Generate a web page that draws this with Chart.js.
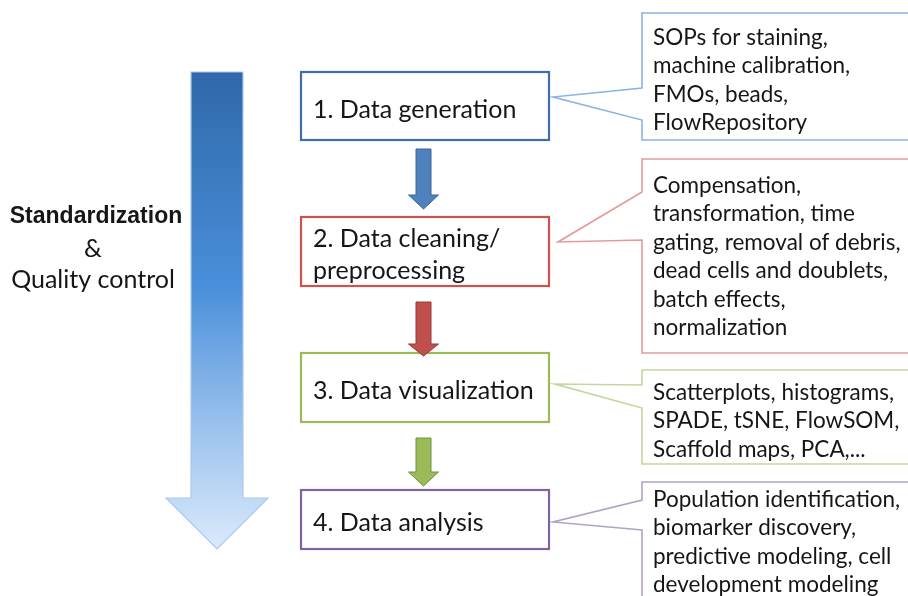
<!DOCTYPE html>
<html>
<head>
<meta charset="utf-8">
<script src="https://cdn.jsdelivr.net/npm/chart.js@4/dist/chart.umd.min.js"></script>
<style>
  html, body { margin: 0; padding: 0; background: #ffffff; }
  #wrap { width: 908px; height: 596px; position: relative; }
</style>
</head>
<body>
<div id="wrap"><canvas id="flowChart"></canvas></div>
<script>
// ==========================================
// DATA: the pipeline steps and their notes
// ==========================================
const stepLabels = [
    ["1. Data generation"],
    ["2. Data cleaning/", "preprocessing"],
    ["3. Data visualization"],
    ["4. Data analysis"]
];

const stepNotes = [
    ["SOPs for staining,", "machine calibration,", "FMOs, beads,", "FlowRepository"],
    ["Compensation,", "transformation, time", "gating, removal of debris,", "dead cells and doublets,", "batch effects,", "normalization"],
    ["Scatterplots, histograms,", "SPADE, tSNE, FlowSOM,", "Scaffold maps, PCA,..."],
    ["Population identification,", "biomarker discovery,", "predictive modeling, cell", "development modeling"]
];

const sideLabel = ["Standardization", "&", "Quality control"];

// ==========================================
// LAYOUT (in the 908 x 596 coordinate system of the x/y scales)
// ==========================================
const stepBoxes = [          // left, top, right, bottom
    [301, 72, 549, 140],
    [301, 217, 549, 286],
    [301, 353, 549, 422],
    [301, 490, 549, 549]
];
const stepBaselines = [[118], [247, 279], [399], [531]];

const noteBoxes = [          // left, top, bottom
    [642, 13, 140],
    [642, 159, 353],
    [642, 370, 464],
    [642, 482, 620]
];
const notePointers = [       // tipX, tipY, attachTop, attachBottom
    [553, 97, 88, 120],
    [558, 242, 192, 240],
    [555, 384, 385, 408],
    [553, 522, 500, 530]
];
const noteFirstBaseline = [45, 193, 400, 507];
const noteLineGap = 28.4;

const smallArrows = [        // shaft top, head base, tip (x centre 423.5)
    [149, 195, 209],
    [302, 344, 356],
    [438, 472, 486]
];

// ==========================================
// STYLE
// ==========================================
const stepColors  = ["#3f6ea8", "#d0504c", "#9bbb59", "#8064a2"];
const noteColors  = ["#8db3e2", "#e59a99", "#c3d69b", "#b3a2c7"];
const arrowFills  = ["#4f81bd", "#c0504d", "#9bbb59"];
const arrowEdges  = ["#3a6497", "#8f3a37", "#748e40"];
const FONT = "Lato, 'Open Sans', sans-serif";
const INK = "#161616";

// ==========================================
// PLUGIN: draws the diagram through the chart's scales
// ==========================================
const diagramPlugin = {
    id: "diagram",
    beforeDraw(chart) {
        const ctx = chart.ctx;
        ctx.save();
        ctx.fillStyle = "#ffffff";
        ctx.fillRect(0, 0, chart.width, chart.height);
        ctx.restore();
    },
    afterDatasetsDraw(chart) {
        const ctx = chart.ctx;
        const sx = v => chart.scales.x.getPixelForValue(v);
        const sy = v => chart.scales.y.getPixelForValue(v);

        const text = (str, x, y, font, align) => {
            ctx.save();
            ctx.font = font;
            ctx.fillStyle = INK;
            ctx.textBaseline = "alphabetic";
            ctx.textAlign = align || "left";
            ctx.fillText(str, sx(x), sy(y));
            ctx.restore();
        };

        // --- big gradient arrow on the left
        ctx.save();
        const grad = ctx.createLinearGradient(0, sy(72), 0, sy(549));
        grad.addColorStop(0, "#2f68aa");
        grad.addColorStop(0.45, "#4a8fda");
        grad.addColorStop(0.75, "#9cc3ee");
        grad.addColorStop(1, "#dbeafb");
        ctx.beginPath();
        ctx.moveTo(sx(191), sy(72));
        ctx.lineTo(sx(243), sy(72));
        ctx.lineTo(sx(243), sy(498));
        ctx.lineTo(sx(268), sy(498));
        ctx.lineTo(sx(217), sy(549));
        ctx.lineTo(sx(166), sy(498));
        ctx.lineTo(sx(191), sy(498));
        ctx.closePath();
        ctx.fillStyle = grad;
        ctx.fill();
        ctx.strokeStyle = "#a9c9ec";
        ctx.lineWidth = 1.2;
        ctx.stroke();
        ctx.restore();

        // --- side label
        text(sideLabel[0], 96, 223, "bold 23px 'Liberation Sans', Arial, sans-serif", "center");
        text(sideLabel[1], 93, 257, "25px " + FONT, "center");
        text(sideLabel[2], 93, 288, "25px " + FONT, "center");

        // --- note callouts
        noteBoxes.forEach((b, i) => {
            const [left, top, bottom] = b;
            const [tx, ty, a1, a2] = notePointers[i];
            ctx.save();
            ctx.beginPath();
            ctx.moveTo(sx(left), sy(top));
            ctx.lineTo(sx(920), sy(top));
            ctx.lineTo(sx(920), sy(bottom));
            ctx.lineTo(sx(left), sy(bottom));
            ctx.lineTo(sx(left), sy(a2));
            ctx.lineTo(sx(tx), sy(ty));
            ctx.lineTo(sx(left), sy(a1));
            ctx.closePath();
            ctx.fillStyle = "#ffffff";
            ctx.fill();
            ctx.strokeStyle = noteColors[i];
            ctx.lineWidth = 1.6;
            ctx.stroke();
            ctx.restore();
            stepNotes[i].forEach((line, k) => {
                text(line, left + 11, noteFirstBaseline[i] + k * noteLineGap, "22.5px " + FONT);
            });
        });

        // --- step boxes
        stepBoxes.forEach((b, i) => {
            const [l, t, r, btm] = b;
            ctx.save();
            ctx.fillStyle = "#ffffff";
            ctx.fillRect(sx(l), sy(t), sx(r) - sx(l), sy(btm) - sy(t));
            ctx.strokeStyle = stepColors[i];
            ctx.lineWidth = 2.2;
            ctx.strokeRect(sx(l), sy(t), sx(r) - sx(l), sy(btm) - sy(t));
            ctx.restore();
            stepLabels[i].forEach((line, k) => {
                text(line, l + 12, stepBaselines[i][k], "25px " + FONT);
            });
        });

        // --- small arrows between steps
        smallArrows.forEach((a, i) => {
            const [top, base, tip] = a;
            const cx = 423.5;
            ctx.save();
            ctx.beginPath();
            ctx.moveTo(sx(cx - 7.5), sy(top));
            ctx.lineTo(sx(cx + 7.5), sy(top));
            ctx.lineTo(sx(cx + 7.5), sy(base));
            ctx.lineTo(sx(cx + 15), sy(base));
            ctx.lineTo(sx(cx), sy(tip));
            ctx.lineTo(sx(cx - 15), sy(base));
            ctx.lineTo(sx(cx - 7.5), sy(base));
            ctx.closePath();
            ctx.fillStyle = arrowFills[i];
            ctx.fill();
            ctx.strokeStyle = arrowEdges[i];
            ctx.lineWidth = 1;
            ctx.stroke();
            ctx.restore();
        });
    }
};

// ==========================================
// CHART
// ==========================================
const ctx = document.getElementById("flowChart").getContext("2d");
new Chart(ctx, {
    type: "scatter",
    data: {
        datasets: [{
            label: "steps",
            data: stepLabels.map((s, i) => ({ x: 425, y: (stepBoxes[i][1] + stepBoxes[i][3]) / 2 })),
            pointRadius: 0,
            pointHoverRadius: 0
        }]
    },
    options: {
        responsive: true,
        maintainAspectRatio: false,
        animation: false,
        events: [],
        layout: { padding: 0 },
        plugins: {
            legend: { display: false },
            tooltip: { enabled: false }
        },
        scales: {
            x: { type: "linear", min: 0, max: 908, display: false },
            y: { type: "linear", min: 0, max: 596, reverse: true, display: false }
        }
    },
    plugins: [diagramPlugin]
});
</script>
</body>
</html>
